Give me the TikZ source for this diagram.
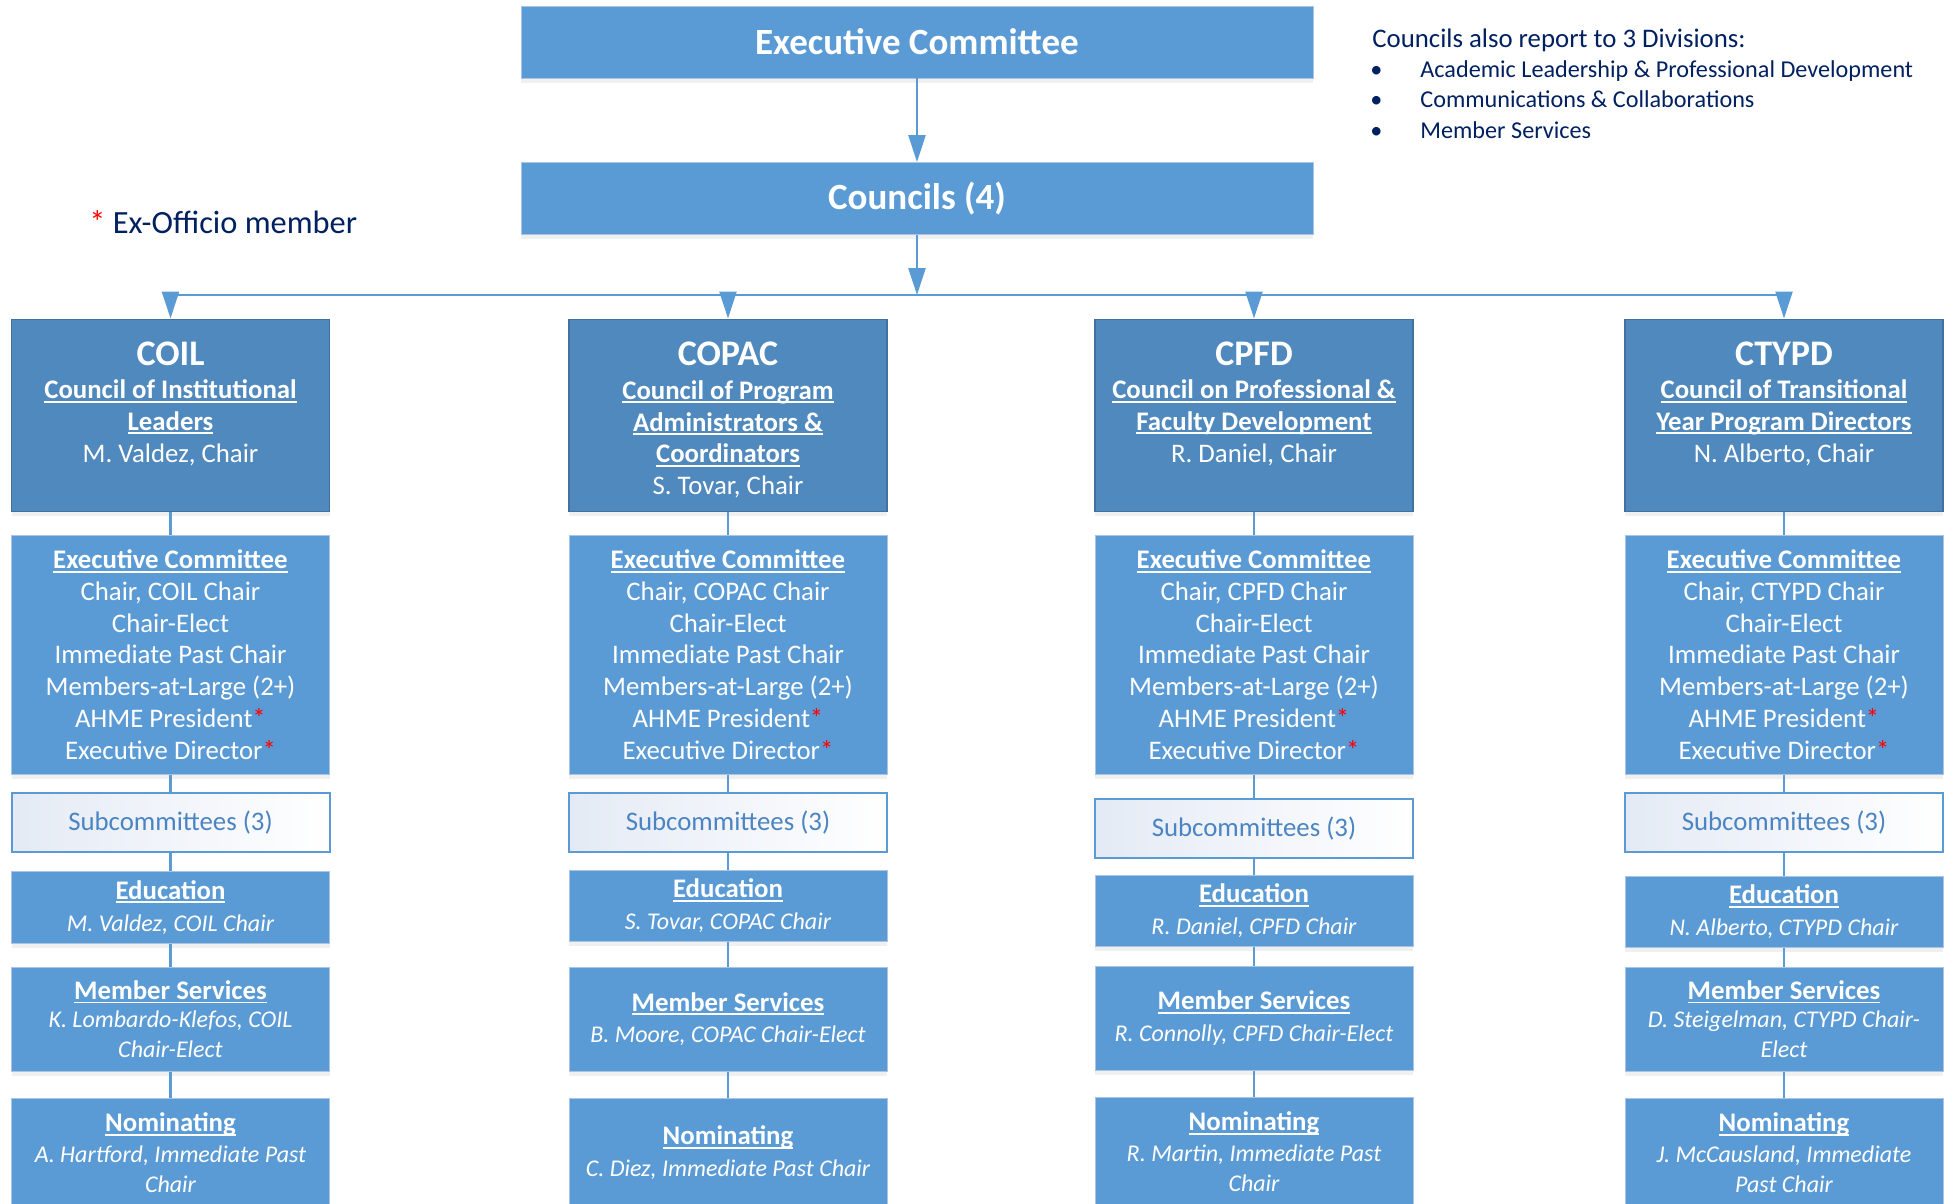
\documentclass[tikz,border=0pt]{standalone}
\usepackage{fontspec}
\setmainfont{Carlito}
\usepackage{xcolor}
\usepackage{tikz}
\usetikzlibrary{positioning, shadows}
\usetikzlibrary{arrows.meta}
\tikzset{>={Triangle[width=8.5pt,length=13.5pt]}}

\definecolor{boxblue}{HTML}{5B9BD5}
\definecolor{councilblue}{HTML}{4F89BD}
\definecolor{councilline}{HTML}{41719C}
\definecolor{boxline}{HTML}{A9C4E4}
\definecolor{navy}{HTML}{002060}
\definecolor{subtext}{HTML}{4A84C2}
\definecolor{subfill}{HTML}{E4EAF5}

\newcommand{\exo}{\textcolor{red}{*}}
\newcommand{\hd}[1]{{\bfseries\setbox0\hbox{#1}\rlap{\rule[-1.9pt]{\wd0}{0.9pt}}\box0}}
\newcommand{\nm}[1]{{\itshape\fontsize{12}{14.3}\selectfont #1}}
\newcommand{\acr}[1]{{\fontsize{18}{22}\selectfont\bfseries #1}}
\newcommand{\bul}{\hspace*{-1pt}\makebox[25pt][l]{\textbullet}}

\begin{document}
\begin{tikzpicture}[x=0.5pt, y=-0.5pt, headnode/.style={rectangle, fill=boxblue, draw=boxline, thin, minimum width=396pt, minimum height=36pt, inner sep=0pt, text=white, font=\fontsize{18.5}{22}\selectfont\bfseries, drop shadow={shadow xshift=0pt, shadow yshift=-2.5pt, opacity=0.12}}, councilnode/.style={rectangle, fill=councilblue, draw=councilline, line width=0.8pt, minimum width=159pt, minimum height=96pt, inner sep=0pt, text height=71.4pt, text depth=24.6pt, text=white, align=center, font=\fontsize{13.4}{15.85}\selectfont, drop shadow={shadow xshift=0pt, shadow yshift=-2.5pt, opacity=0.12}}, boxnode/.style={rectangle, fill=boxblue, draw=boxline, thin, minimum width=159pt, inner sep=0pt, text=white, align=center, font=\fontsize{13.4}{15.85}\selectfont, drop shadow={shadow xshift=0pt, shadow yshift=-2.5pt, opacity=0.12}}, subnode/.style={rectangle, left color=subfill, right color=white, draw=boxblue, line width=1pt, minimum width=159pt, minimum height=29.5pt, inner sep=0pt, text=subtext, font=\fontsize{13.4}{16}\selectfont}, textnode/.style={draw=none, fill=none, text=navy, align=left, inner sep=0pt}, link/.style={draw=boxblue, line width=1.2pt}]

    \useasboundingbox (0,0) rectangle (1951,1204);

    %Nodes
    \node[headnode](exec) at (917,42) {Executive Committee};
    \node[headnode](councils) at (917,198.5) {Councils (4)};
    \node[textnode, font=\fontsize{16.2}{19}\selectfont, anchor=west](exofficio) at (89,222) {\textcolor{red}{*} Ex-Officio member};
    \node[textnode, font=\fontsize{12.1}{15}\selectfont, anchor=north west](divisions) at (1372,28) {{\fontsize{13.4}{15}\selectfont Councils also report to 3 Divisions:}\\ \bul Academic Leadership \& Professional Development\\ \bul Communications \& Collaborations\\[0.8pt] \bul Member Services};

    \coordinate (bcoil) at (170.5,295);
    \coordinate (bcopac) at (728,295);
    \coordinate (bcenter) at (917,295);
    \coordinate (bcpfd) at (1254,295);
    \coordinate (bctypd) at (1784,295);

    % COIL
    \node[councilnode, anchor=north](coil) at (170.5,318.5) {\acr{COIL}\\[1pt] \hd{Council of Institutional}\\ \hd{Leaders}\\ M. Valdez, Chair};
    \node[boxnode, minimum height=119.5pt](coilexec)[below=11.3pt of coil] {\hd{Executive Committee}\\ Chair, COIL Chair\\ Chair-Elect\\ Immediate Past Chair\\ Members-at-Large (2+)\\ AHME President\exo\\ Executive Director\exo};
    \node[subnode](coilsub)[below=8.9pt of coilexec] {Subcommittees (3)};
    \node[boxnode, minimum height=36pt](coiledu)[below=8.8pt of coilsub] {\hd{Education}\\ \nm{M. Valdez, COIL Chair}};
    \node[boxnode, minimum height=52pt](coilmem)[below=11.5pt of coiledu] {\hd{Member Services}\\[-1.9pt] \nm{K. Lombardo-Klefos, COIL}\\[-0.9pt] \nm{Chair-Elect}};
    \node[boxnode, minimum height=54pt](coilnom)[below=13.4pt of coilmem] {\hd{Nominating}\\[-0.6pt] \nm{A. Hartford, Immediate Past}\\[-0.9pt] \nm{Chair}};

    % COPAC
    \node[councilnode, anchor=north, text height=87.6pt, text depth=8.4pt](copac) at (728,318.5) {\acr{COPAC}\\[1pt] \hd{Council of Program}\\ \hd{Administrators \&}\\ \hd{Coordinators}\\ S. Tovar, Chair};
    \node[boxnode, minimum height=119.5pt](copacexec)[below=11.3pt of copac] {\hd{Executive Committee}\\ Chair, COPAC Chair\\ Chair-Elect\\ Immediate Past Chair\\ Members-at-Large (2+)\\ AHME President\exo\\ Executive Director\exo};
    \node[subnode](copacsub)[below=8.9pt of copacexec] {Subcommittees (3)};
    \node[boxnode, minimum height=35.5pt](copacedu)[below=8.3pt of copacsub] {\hd{Education}\\ \nm{S. Tovar, COPAC Chair}};
    \node[boxnode, minimum height=52pt](copacmem)[below=12.5pt of copacedu] {\hd{Member Services}\\ \nm{B. Moore, COPAC Chair-Elect}};
    \node[boxnode, minimum height=54pt](copacnom)[below=13.4pt of copacmem] {\hd{Nominating}\\ \nm{C. Diez, Immediate Past Chair}};

    % CPFD
    \node[councilnode, anchor=north](cpfd) at (1254,318.5) {\acr{CPFD}\\[1pt] \hd{Council on Professional \&}\\ \hd{Faculty Development}\\ R. Daniel, Chair};
    \node[boxnode, minimum height=119.5pt](cpfdexec)[below=11.3pt of cpfd] {\hd{Executive Committee}\\ Chair, CPFD Chair\\ Chair-Elect\\ Immediate Past Chair\\ Members-at-Large (2+)\\ AHME President\exo\\ Executive Director\exo};
    \node[subnode](cpfdsub)[below=11.9pt of cpfdexec] {Subcommittees (3)};
    \node[boxnode, minimum height=35.5pt](cpfdedu)[below=7.8pt of cpfdsub] {\hd{Education}\\ \nm{R. Daniel, CPFD Chair}};
    \node[boxnode, minimum height=52pt](cpfdmem)[below=9.5pt of cpfdedu] {\hd{Member Services}\\ \nm{R. Connolly, CPFD Chair-Elect}};
    \node[boxnode, minimum height=54pt](cpfdnom)[below=13.4pt of cpfdmem] {\hd{Nominating}\\[-0.6pt] \nm{R. Martin, Immediate Past}\\[-0.9pt] \nm{Chair}};

    % CTYPD
    \node[councilnode, anchor=north](ctypd) at (1784,318.5) {\acr{CTYPD}\\[1pt] \hd{Council of Transitional}\\ \hd{Year Program Directors}\\ N. Alberto, Chair};
    \node[boxnode, minimum height=119.5pt](ctypdexec)[below=11.3pt of ctypd] {\hd{Executive Committee}\\ Chair, CTYPD Chair\\ Chair-Elect\\ Immediate Past Chair\\ Members-at-Large (2+)\\ AHME President\exo\\ Executive Director\exo};
    \node[subnode](ctypdsub)[below=8.9pt of ctypdexec] {Subcommittees (3)};
    \node[boxnode, minimum height=35.5pt](ctypdedu)[below=11.3pt of ctypdsub] {\hd{Education}\\ \nm{N. Alberto, CTYPD Chair}};
    \node[boxnode, minimum height=52pt](ctypdmem)[below=9.5pt of ctypdedu] {\hd{Member Services}\\[-1.9pt] \nm{D. Steigelman, CTYPD Chair-}\\[-0.9pt] \nm{Elect}};
    \node[boxnode, minimum height=54pt](ctypdnom)[below=13.4pt of ctypdmem] {\hd{Nominating}\\[-0.6pt] \nm{J. McCausland, Immediate}\\[-0.9pt] \nm{Past Chair}};

    %Lines
    \draw[link, ->] (exec) -- (councils);
    \draw[link, ->] (councils) -- (bcenter);
    \draw[link] (bcoil) -- (bctypd);
    \draw[link, ->] (bcoil) -- (coil);
    \draw[link, ->] (bcopac) -- (copac);
    \draw[link, ->] (bcpfd) -- (cpfd);
    \draw[link, ->] (bctypd) -- (ctypd);

    \draw[link] (coil) -- (coilexec) -- (coilsub) -- (coiledu) -- (coilmem) -- (coilnom);
    \draw[link] (copac) -- (copacexec) -- (copacsub) -- (copacedu) -- (copacmem) -- (copacnom);
    \draw[link] (cpfd) -- (cpfdexec) -- (cpfdsub) -- (cpfdedu) -- (cpfdmem) -- (cpfdnom);
    \draw[link] (ctypd) -- (ctypdexec) -- (ctypdsub) -- (ctypdedu) -- (ctypdmem) -- (ctypdnom);

\end{tikzpicture}
\end{document}
